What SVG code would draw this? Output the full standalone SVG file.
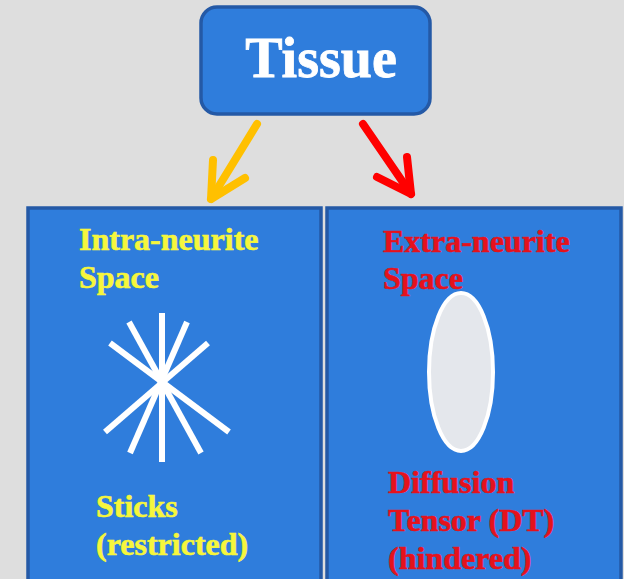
<svg xmlns="http://www.w3.org/2000/svg" width="624" height="579" viewBox="0 0 624 579">
<defs>
<style>
.box{fill:#2f7ddc;stroke:#2459a6;stroke-width:3.5}
.t{font-family:"Liberation Serif","Times New Roman",serif;font-weight:bold;font-size:32px;stroke-width:0.6}
.y{fill:#f6f63c;stroke:#f6f63c}
.r{fill:#e5121c;stroke:#e5121c}
.stick{stroke:#ffffff;stroke-width:6;stroke-linecap:butt}
.arr{fill:none;stroke-width:8;stroke-linecap:round;stroke-linejoin:round}
</style>
</defs>
<rect width="624" height="579" fill="#dedede"/>
<g id="tissue">
<rect class="box" x="201" y="7" width="229" height="107" rx="16"/>
<text x="321" y="77" text-anchor="middle" font-family="Liberation Serif, Times New Roman, serif" font-weight="bold" font-size="56" fill="#ffffff" stroke="#ffffff" stroke-width="0.8">Tissue</text>
</g>
<g id="connectors">
<g class="arr" stroke="#ffc000">
<line x1="257" y1="124" x2="211" y2="199"/>
<polyline points="213,160 211,199 245,178"/>
</g>
<g class="arr" stroke="#ff0000">
<line x1="363" y1="124" x2="411" y2="194"/>
<polyline points="377,177 411,194 407,157"/>
</g>
</g>
<g id="intra">
<rect class="box" x="28" y="208" width="293" height="376"/>
<text class="t y" x="79" y="250">Intra-neurite</text>
<text class="t y" x="79" y="288">Space</text>
<g class="stick">
<line x1="162" y1="313" x2="162" y2="462"/>
<line x1="129" y1="322" x2="201" y2="453"/>
<line x1="187" y1="322" x2="130" y2="453"/>
<line x1="110" y1="343" x2="229" y2="432"/>
<line x1="208" y1="343" x2="105" y2="432"/>
</g>
<text class="t y" x="96" y="517">Sticks</text>
<text class="t y" x="96" y="555">(restricted)</text>
</g>
<g id="extra">
<rect class="box" x="327" y="208" width="294" height="376"/>
<text class="t r" x="383" y="252">Extra-neurite</text>
<text class="t r" x="383" y="289">Space</text>
<ellipse cx="461" cy="372" rx="32" ry="79" fill="#e4e7ec" stroke="#ffffff" stroke-width="4"/>
<text class="t r" x="388" y="493">Diffusion</text>
<text class="t r" x="388" y="531">Tensor (DT)</text>
<text class="t r" x="388" y="569">(hindered)</text>
</g>
</svg>
